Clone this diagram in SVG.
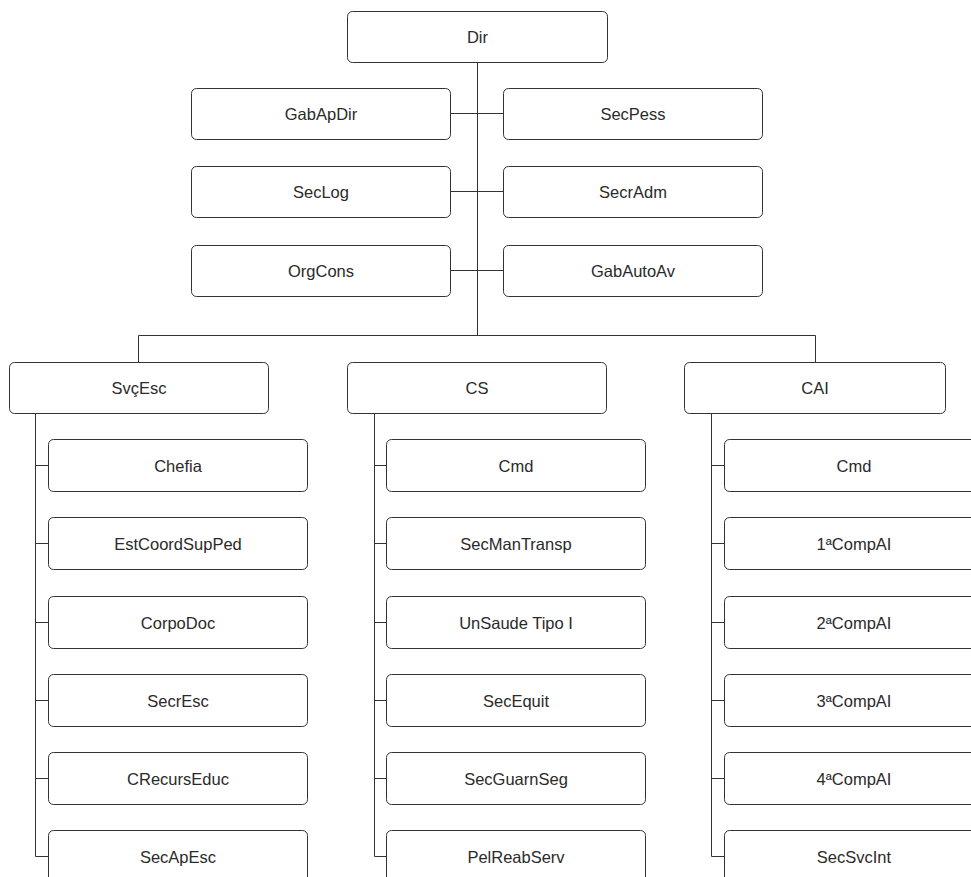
<svg xmlns="http://www.w3.org/2000/svg" width="971" height="877" viewBox="0 0 971 877">
<style>
.b{fill:#fff;stroke:#333;stroke-width:1}
.t{font-family:"Liberation Sans",Arial,sans-serif;font-size:16.5px;fill:#2a2a2a;text-anchor:middle}
.c{fill:none;stroke:#333;stroke-width:1}
</style>
<rect width="971" height="877" fill="#fff"/>
<g id="connectors">
<path class="c" d="M477.5 62V335.5M451 113.5H503M451 191.5H503M451 270.5H503M138.5 362V335.5H815.5V362M35.5 413V856.5M35.5 465.5H48M35.5 543.5H48M35.5 622.5H48M35.5 700.5H48M35.5 778.5H48M35.5 856.5H48M374.5 413V856.5M374.5 465.5H386M374.5 543.5H386M374.5 622.5H386M374.5 700.5H386M374.5 778.5H386M374.5 856.5H386M711.5 413V856.5M711.5 465.5H724M711.5 543.5H724M711.5 622.5H724M711.5 700.5H724M711.5 778.5H724M711.5 856.5H724"/>
</g>
<g id="n-dir"><rect class="b" x="347.5" y="11.5" width="260" height="51" rx="5"/><text class="t" x="477.5" y="43">Dir</text></g>
<g id="n-gabapdir"><rect class="b" x="191.5" y="88.5" width="259" height="51" rx="5"/><text class="t" x="321" y="120">GabApDir</text></g>
<g id="n-secpess"><rect class="b" x="503.5" y="88.5" width="259" height="51" rx="5"/><text class="t" x="633" y="120">SecPess</text></g>
<g id="n-seclog"><rect class="b" x="191.5" y="166.5" width="259" height="51" rx="5"/><text class="t" x="321" y="198">SecLog</text></g>
<g id="n-secradm"><rect class="b" x="503.5" y="166.5" width="259" height="51" rx="5"/><text class="t" x="633" y="198">SecrAdm</text></g>
<g id="n-orgcons"><rect class="b" x="191.5" y="245.5" width="259" height="51" rx="5"/><text class="t" x="321" y="277">OrgCons</text></g>
<g id="n-gabautoav"><rect class="b" x="503.5" y="245.5" width="259" height="51" rx="5"/><text class="t" x="633" y="277">GabAutoAv</text></g>
<g id="n-svcesc"><rect class="b" x="9.5" y="362.5" width="259" height="51" rx="5"/><text class="t" x="139" y="394">SvçEsc</text></g>
<g id="n-cs"><rect class="b" x="347.5" y="362.5" width="259" height="51" rx="5"/><text class="t" x="477" y="394">CS</text></g>
<g id="n-cai"><rect class="b" x="684.5" y="362.5" width="261" height="51" rx="5"/><text class="t" x="815" y="394">CAI</text></g>
<g id="n-chefia"><rect class="b" x="48.5" y="439.5" width="259" height="52" rx="5"/><text class="t" x="178" y="471.5">Chefia</text></g>
<g id="n-estcoord"><rect class="b" x="48.5" y="517.5" width="259" height="52" rx="5"/><text class="t" x="178" y="549.5">EstCoordSupPed</text></g>
<g id="n-corpodoc"><rect class="b" x="48.5" y="596.5" width="259" height="52" rx="5"/><text class="t" x="178" y="628.5">CorpoDoc</text></g>
<g id="n-secresc"><rect class="b" x="48.5" y="674.5" width="259" height="52" rx="5"/><text class="t" x="178" y="706.5">SecrEsc</text></g>
<g id="n-crecurs"><rect class="b" x="48.5" y="752.5" width="259" height="52" rx="5"/><text class="t" x="178" y="784.5">CRecursEduc</text></g>
<g id="n-secapesc"><rect class="b" x="48.5" y="830.5" width="259" height="52" rx="5"/><text class="t" x="178" y="862.5">SecApEsc</text></g>
<g id="n-cs-cmd"><rect class="b" x="386.5" y="439.5" width="259" height="52" rx="5"/><text class="t" x="516" y="471.5">Cmd</text></g>
<g id="n-secman"><rect class="b" x="386.5" y="517.5" width="259" height="52" rx="5"/><text class="t" x="516" y="549.5">SecManTransp</text></g>
<g id="n-unsaude"><rect class="b" x="386.5" y="596.5" width="259" height="52" rx="5"/><text class="t" x="516" y="628.5">UnSaude Tipo I</text></g>
<g id="n-secequit"><rect class="b" x="386.5" y="674.5" width="259" height="52" rx="5"/><text class="t" x="516" y="706.5">SecEquit</text></g>
<g id="n-secguarn"><rect class="b" x="386.5" y="752.5" width="259" height="52" rx="5"/><text class="t" x="516" y="784.5">SecGuarnSeg</text></g>
<g id="n-pelreab"><rect class="b" x="386.5" y="830.5" width="259" height="52" rx="5"/><text class="t" x="516" y="862.5">PelReabServ</text></g>
<g id="n-cai-cmd"><rect class="b" x="724.5" y="439.5" width="259" height="52" rx="5"/><text class="t" x="854" y="471.5">Cmd</text></g>
<g id="n-1comp"><rect class="b" x="724.5" y="517.5" width="259" height="52" rx="5"/><text class="t" x="854" y="549.5">1ªCompAI</text></g>
<g id="n-2comp"><rect class="b" x="724.5" y="596.5" width="259" height="52" rx="5"/><text class="t" x="854" y="628.5">2ªCompAI</text></g>
<g id="n-3comp"><rect class="b" x="724.5" y="674.5" width="259" height="52" rx="5"/><text class="t" x="854" y="706.5">3ªCompAI</text></g>
<g id="n-4comp"><rect class="b" x="724.5" y="752.5" width="259" height="52" rx="5"/><text class="t" x="854" y="784.5">4ªCompAI</text></g>
<g id="n-secsvcint"><rect class="b" x="724.5" y="830.5" width="259" height="52" rx="5"/><text class="t" x="854" y="862.5">SecSvcInt</text></g>
</svg>
